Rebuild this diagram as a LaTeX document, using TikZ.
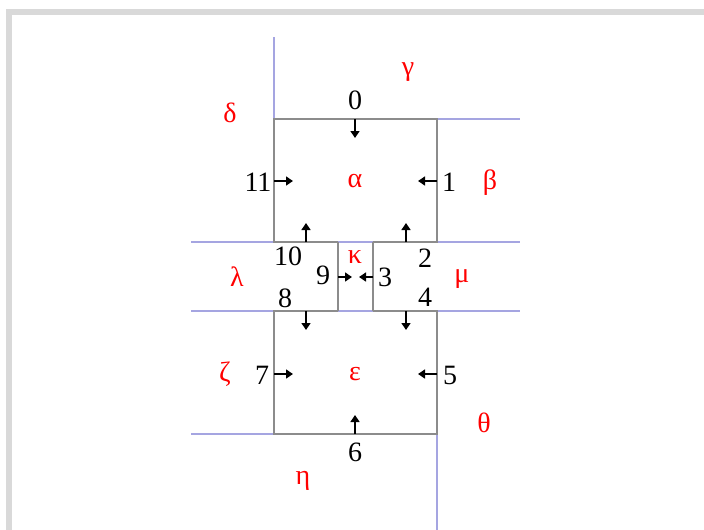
\documentclass[tikz,border=0pt]{standalone}
\usepackage{fontspec}
\setmainfont{Liberation Serif}
\usetikzlibrary{arrows.meta}
\begin{document}
\begin{tikzpicture}[x=1pt,y=-1pt,
  grayline/.style={draw=black!45, line width=1.3pt},
  blueline/.style={draw={rgb,255:red,165;green,165;blue,225}, line width=1.3pt},
  flow/.style={-{Triangle[length=7pt,width=9pt]}, line width=1.4pt},
  num/.style={font=\fontsize{28}{28}\selectfont, text=black, inner sep=0pt},
  greek/.style={font=\fontsize{28}{28}\selectfont, text=red, inner sep=0pt}]
\useasboundingbox (0,0) rectangle (704,530);
\fill[black!15] (8,9) rectangle (704,15);
\fill[black!15] (6,9) rectangle (12,530);

% corner coordinates
\coordinate (A1) at (274,119); \coordinate (A2) at (437,119);
\coordinate (M1) at (274,242); \coordinate (K1) at (338,242); \coordinate (K2) at (373,242); \coordinate (M2) at (437,242);
\coordinate (N1) at (274,311); \coordinate (K3) at (338,311); \coordinate (K4) at (373,311); \coordinate (N2) at (437,311);
\coordinate (B1) at (274,434); \coordinate (B2) at (437,434);
\coordinate (TopEnd) at (274,37);
\coordinate (R1) at (520,119); \coordinate (R2) at (520,242); \coordinate (R3) at (520,311);
\coordinate (L2) at (191,242); \coordinate (L3) at (191,311); \coordinate (L4) at (191,434);
\coordinate (BotEnd) at (437,530);

% blue boundary lines
\draw[blueline] (TopEnd) -- (A1);
\draw[blueline] (A2) -- (R1);
\draw[blueline] (L2) -- (R2);
\draw[blueline] (L3) -- (R3);
\draw[blueline] (L4) -- (B1);
\draw[blueline] (B2) -- (BotEnd);

% gray boxes
\draw[grayline] (K1) -- (M1) -- (A1) -- (A2) -- (M2) -- (K2);
\draw[grayline] (K3) -- (N1) -- (B1) -- (B2) -- (N2) -- (K4);
\draw[grayline] (K1) -- (K3);
\draw[grayline] (K2) -- (K4);

% arrows
\coordinate (a0s) at (355,119); \coordinate (a0e) at (355,138);
\coordinate (a11s) at (274,181); \coordinate (a11e) at (293,181);
\coordinate (a1s) at (437,181); \coordinate (a1e) at (418,181);
\coordinate (a10s) at (306,242); \coordinate (a10e) at (306,223);
\coordinate (a2s) at (406,242); \coordinate (a2e) at (406,223);
\coordinate (a9s) at (338,277); \coordinate (a9e) at (352,277);
\coordinate (a3s) at (373,277); \coordinate (a3e) at (359,277);
\coordinate (a8s) at (306,311); \coordinate (a8e) at (306,330);
\coordinate (a4s) at (406,311); \coordinate (a4e) at (406,330);
\coordinate (a7s) at (274,374); \coordinate (a7e) at (293,374);
\coordinate (a5s) at (437,374); \coordinate (a5e) at (418,374);
\coordinate (a6s) at (355,434); \coordinate (a6e) at (355,415);
\foreach \s/\e in {a0s/a0e,a11s/a11e,a1s/a1e,a10s/a10e,a2s/a2e,a9s/a9e,a3s/a3e,a8s/a8e,a4s/a4e,a7s/a7e,a5s/a5e,a6s/a6e}
  \draw[flow] (\s) -- (\e);

% number labels
\node[num] (n0) at (355,100) {0};
\node[num] (n1) at (449,182) {1};
\node[num] (n2) at (425,258) {2};
\node[num] (n3) at (385,277) {3};
\node[num] (n4) at (425,297) {4};
\node[num] (n5) at (450,375) {5};
\node[num] (n6) at (355,452) {6};
\node[num] (n7) at (262,375) {7};
\node[num] (n8) at (285,298) {8};
\node[num] (n9) at (323,275) {9};
\node[num] (n10) at (288,256) {10};
\node[num] (n11) at (258,182) {11};

% region labels
\node[greek] (g) at (408,72) {γ};
\node[greek] (d) at (230,113) {δ};
\node[greek] (al) at (355,181) {α};
\node[greek] (be) at (490,183) {β};
\node[greek] (ka) at (355,257) {κ};
\node[greek] (la) at (237,277) {λ};
\node[greek] (mu) at (462,279) {μ};
\node[greek] (ze) at (225,374) {ζ};
\node[greek] (ep) at (355,374) {ε};
\node[greek] (th) at (484,423) {θ};
\node[greek] (et) at (303,481) {η};
\end{tikzpicture}
\end{document}
